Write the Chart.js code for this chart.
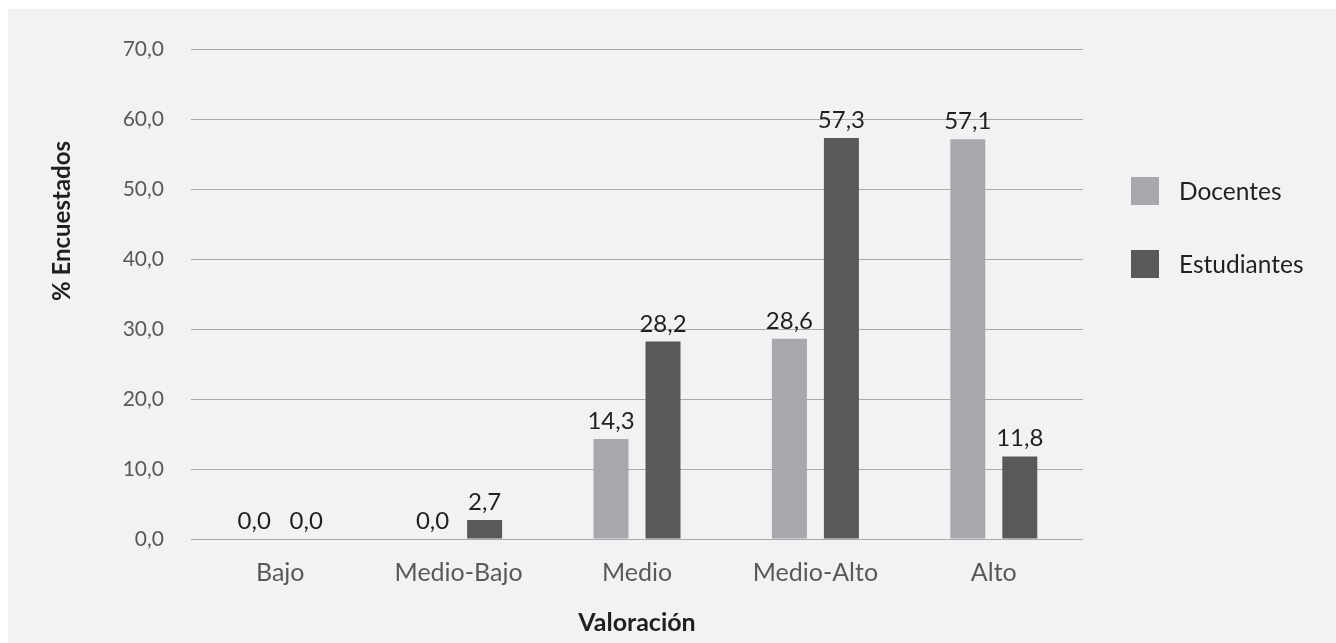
<!DOCTYPE html>
<html lang="es">
<head>
<meta charset="utf-8">
<title>Valoración</title>
<script src="https://cdn.jsdelivr.net/npm/chart.js@4/dist/chart.umd.min.js"></script>
<style>
  html, body { margin: 0; padding: 0; background: #ffffff; }
  #wrap {
    position: absolute; left: 8px; top: 9px;
    width: 1328px; height: 634px;
    background: #f1f2f4;
  }
</style>
</head>
<body>
<div id="wrap"><canvas id="chart"></canvas></div>
<script>
const categories = ['Bajo', 'Medio-Bajo', 'Medio', 'Medio-Alto', 'Alto'];
const docentes = [0.0, 0.0, 14.3, 28.6, 57.1];
const estudiantes = [0.0, 2.7, 28.2, 57.3, 11.8];
const seriesNames = ['Docentes', 'Estudiantes'];
const yTitle = '% Encuestados';
const xTitle = 'Valoración';

const FONT = 'Lato, "Noto Sans", sans-serif';
const fmt = v => v.toFixed(1).replace('.', ',');

// Value labels above each bar
const valueLabels = {
  id: 'valueLabels',
  afterDatasetsDraw(chart) {
    const ctx = chart.ctx;
    ctx.save();
    ctx.font = '24px ' + FONT;
    ctx.fillStyle = '#231f20';
    ctx.textAlign = 'center';
    ctx.textBaseline = 'alphabetic';
    chart.data.datasets.forEach((ds, i) => {
      chart.getDatasetMeta(i).data.forEach((bar, j) => {
        ctx.fillText(fmt(ds.data[j]), bar.x, bar.y - 10);
      });
    });
    ctx.restore();
  }
};

// Side legend and rotated y-axis title
const sideItems = {
  id: 'sideItems',
  afterDraw(chart) {
    const ctx = chart.ctx;
    ctx.save();
    ctx.font = '24.5px ' + FONT;
    ctx.textAlign = 'left';
    ctx.textBaseline = 'middle';
    chart.data.datasets.forEach((ds, i) => {
      const top = 168 + i * 73;
      ctx.fillStyle = ds.backgroundColor;
      ctx.fillRect(1123, top, 28, 28);
      ctx.fillStyle = '#231f20';
      ctx.fillText(ds.label, 1171, top + 15);
    });
    ctx.translate(54, 212);
    ctx.rotate(-Math.PI / 2);
    ctx.font = 'bold 24px ' + FONT;
    ctx.textAlign = 'center';
    ctx.fillStyle = '#231f20';
    ctx.fillText(yTitle, 0, 0);
    ctx.restore();
  }
};

new Chart(document.getElementById('chart'), {
  type: 'bar',
  data: {
    labels: categories,
    datasets: [
      { label: seriesNames[0], data: docentes, backgroundColor: '#a7a8ab' },
      { label: seriesNames[1], data: estudiantes, backgroundColor: '#58595b' }
    ]
  },
  options: {
    responsive: true,
    maintainAspectRatio: false,
    animation: false,
    categoryPercentage: 0.583,
    barPercentage: 0.673,
    layout: { padding: { top: 40, right: 253, bottom: 0, left: 0 } },
    plugins: {
      legend: { display: false },
      tooltip: { enabled: false }
    },
    scales: {
      x: {
        grid: { display: false },
        border: { display: false },
        ticks: { color: '#595959', font: { family: FONT, size: 25 }, padding: 11 },
        title: {
          display: true, text: xTitle, color: '#231f20',
          font: { family: FONT, size: 25, weight: 'bold' },
          padding: { top: 0, bottom: 5 }
        },
        afterFit(s) { s.height = 104; }
      },
      y: {
        min: 0, max: 70,
        grid: { color: '#a9a9a9', lineWidth: 1, drawTicks: false },
        border: { display: false },
        ticks: {
          stepSize: 10, padding: 27, color: '#595959',
          font: { family: FONT, size: 21 },
          callback: v => fmt(v)
        },
        afterFit(s) { s.width = 183; }
      }
    }
  },
  plugins: [valueLabels, sideItems]
});
</script>
</body>
</html>
